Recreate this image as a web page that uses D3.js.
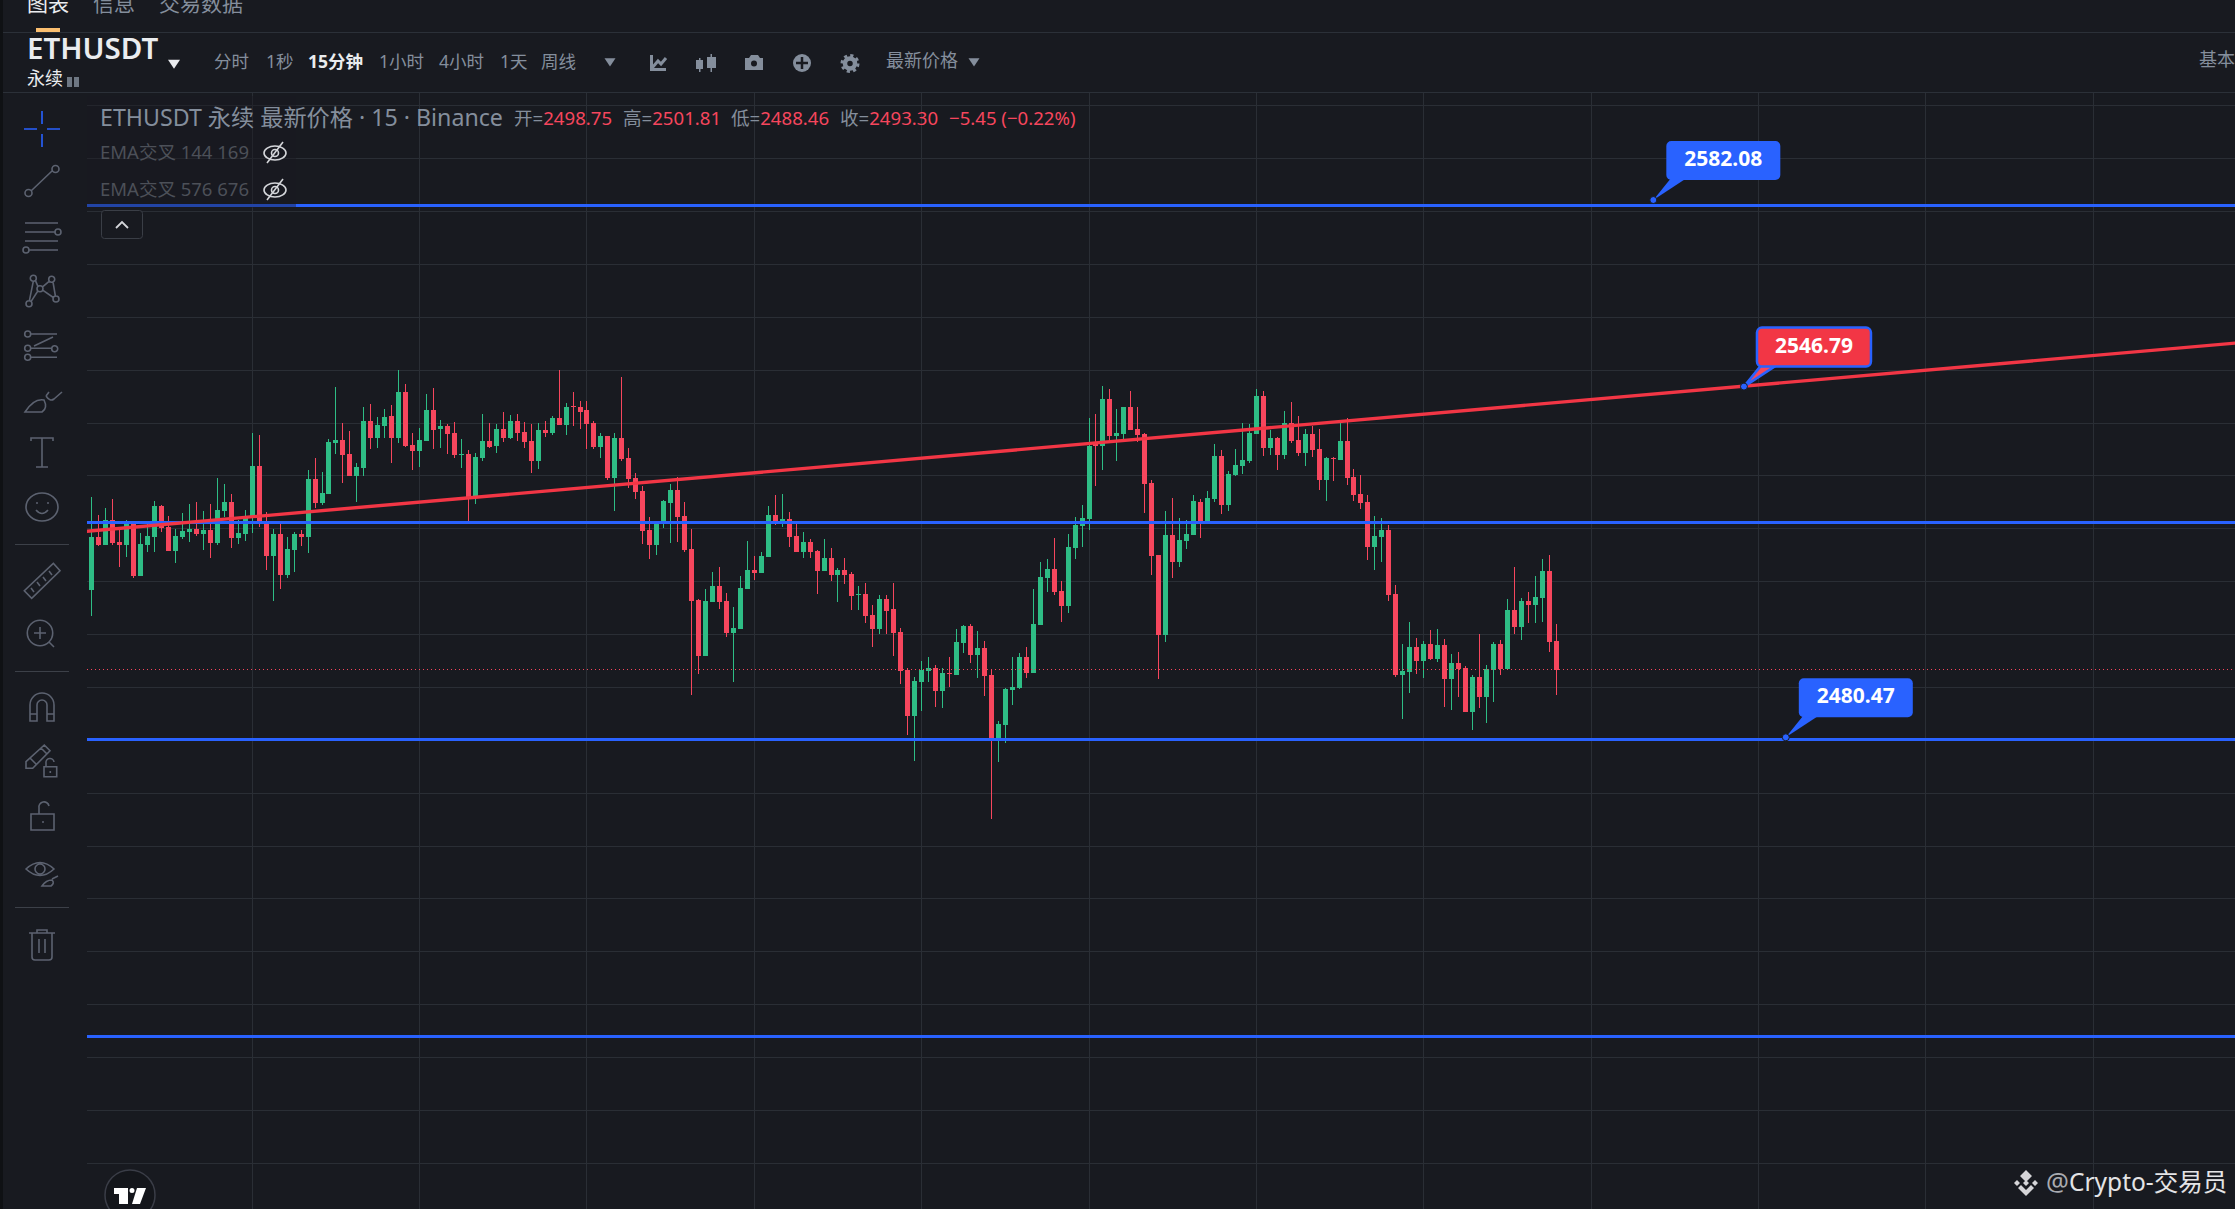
<!DOCTYPE html>
<html>
<head>
<meta charset="utf-8">
<script src="https://cdn.jsdelivr.net/npm/d3@7"></script>
<style>
html, body { margin: 0; padding: 0; background: #181a20; overflow: hidden; }
text { font-family: "Noto Sans", "Noto Sans CJK SC", sans-serif; }
</style>
</head>
<body>
<svg id="plot" width="2235" height="1209"></svg>
<script>
// ETHUSDT perp, 15 min candles
opens = [
2508.32,2518.35,2516.83,2521.56,2517.40,2516.83,2520.80,2510.97,2516.83,2518.35,
2524.21,2520.24,2515.70,2518.35,2519.29,2519.86,2518.91,2519.67,2517.21,2523.26,
2524.96,2518.16,2518.91,2522.32,2531.77,2521.18,2514.75,2518.91,2511.16,2515.89,
2518.91,2518.35,2529.31,2524.78,2526.48,2536.12,2536.69,2534.04,2529.88,2531.40,
2540.28,2537.07,2539.34,2541.23,2537.07,2545.77,2535.74,2534.61,2536.50,2542.36,
2538.77,2539.34,2538.01,2533.85,2534.04,2526.10,2533.29,2536.50,2535.56,2538.77,
2537.07,2540.28,2538.20,2536.50,2532.72,2538.58,2538.01,2540.85,2539.53,2543.12,
2542.93,2542.36,2539.91,2535.37,2537.45,2529.50,2537.07,2533.29,2529.50,2527.05,
2519.67,2516.84,2520.81,2524.78,2527.24,2522.32,2516.08,2506.44,2495.85,2506.06,
2509.08,2506.25,2500.20,2500.95,2508.52,2512.11,2511.54,2514.57,2522.51,2521.00,
2521.75,2518.54,2515.51,2517.40,2515.70,2511.92,2514.38,2511.16,2512.11,2511.35,
2507.38,2507.57,2503.60,2500.95,2506.63,2504.73,2500.38,2493.20,2484.50,2490.93,
2493.01,2493.58,2489.23,2492.63,2492.25,2498.30,2501.52,2496.03,2497.36,2492.25,
2480.34,2482.80,2489.42,2489.79,2495.66,2492.63,2501.71,2510.60,2512.30,2508.14,
2505.30,2516.27,2520.43,2521.75,2535.94,2535.56,2544.45,2537.45,2537.83,2542.93,
2538.77,2537.83,2528.56,2514.94,2499.81,2518.73,2513.62,2517.59,2518.73,2524.97,
2521.18,2525.53,2533.67,2524.40,2530.07,2531.77,2532.72,2537.83,2545.01,2535.18,
2537.07,2533.85,2539.91,2536.69,2534.23,2537.83,2534.99,2529.13,2533.29,2532.91,
2536.50,2529.69,2526.48,2524.97,2516.46,2518.35,2519.67,2507.57,2492.25,2492.82,
2497.54,2494.90,2498.11,2495.27,2497.92,2491.49,2494.52,2493.57,2485.25,2491.87,
2488.09,2493.19,2498.11,2493.38,2504.54,2501.33,2506.24,2505.49,2506.81,2511.92,
2498.75];
highs = [
2525.91,2522.51,2523.83,2525.53,2519.67,2521.56,2520.80,2519.10,2521.31,2525.15,
2524.40,2522.32,2519.86,2522.88,2524.59,2524.96,2523.26,2524.59,2529.50,2528.37,
2526.48,2521.56,2523.45,2538.01,2537.64,2523.07,2519.86,2520.80,2518.35,2519.29,
2519.67,2531.02,2533.29,2530.64,2536.88,2546.71,2539.91,2538.39,2532.34,2542.93,
2543.50,2541.04,2542.55,2543.31,2549.93,2547.28,2538.01,2538.96,2545.39,2546.52,
2540.47,2539.72,2540.09,2536.88,2534.80,2534.23,2541.61,2539.91,2539.72,2541.99,
2541.42,2541.61,2540.09,2539.72,2539.91,2540.28,2541.23,2549.93,2543.69,2545.77,
2544.07,2544.07,2540.28,2538.01,2537.45,2538.01,2548.60,2535.18,2530.45,2528.00,
2522.13,2521.00,2525.35,2528.37,2529.70,2524.97,2519.86,2506.63,2508.52,2511.73,
2512.68,2507.76,2505.11,2510.97,2517.59,2514.76,2515.51,2524.21,2526.29,2526.48,
2523.08,2521.38,2519.30,2517.97,2515.89,2517.97,2516.27,2512.49,2514.38,2511.73,
2509.08,2509.65,2505.49,2507.38,2507.38,2509.65,2501.14,2493.58,2491.87,2494.90,
2495.66,2494.14,2493.58,2495.66,2500.95,2501.71,2501.90,2500.57,2498.68,2493.20,
2483.55,2489.79,2495.66,2496.41,2497.55,2508.52,2513.62,2514.19,2518.16,2510.03,
2518.92,2522.13,2524.40,2540.86,2541.61,2546.90,2546.34,2542.55,2542.93,2545.96,
2542.93,2538.02,2529.13,2514.94,2523.26,2525.72,2521.94,2521.56,2526.29,2525.53,
2527.05,2535.94,2534.80,2530.83,2534.99,2539.91,2539.72,2546.34,2545.96,2538.58,
2537.26,2542.18,2543.88,2541.23,2538.77,2539.34,2538.77,2533.48,2533.48,2539.91,
2540.85,2531.21,2530.07,2526.29,2522.32,2521.94,2520.62,2509.27,2498.11,2502.27,
2499.25,2498.68,2500.76,2500.95,2499.06,2496.22,2496.60,2493.95,2492.25,2500.00,
2494.14,2498.49,2498.87,2506.62,2512.67,2506.81,2507.95,2510.97,2514.19,2514.94,
2501.81];
lows = [
2503.41,2516.64,2516.83,2516.83,2512.67,2514.56,2510.59,2510.97,2515.51,2515.51,
2519.29,2515.70,2513.43,2517.97,2517.40,2518.53,2515.89,2514.37,2516.83,2522.13,
2516.27,2517.02,2517.59,2519.10,2520.24,2512.10,2506.24,2508.51,2510.59,2511.73,
2516.64,2515.32,2523.83,2524.40,2526.48,2534.04,2528.56,2529.88,2524.96,2529.88,
2534.99,2535.18,2537.07,2532.34,2536.12,2535.37,2531.02,2531.58,2536.50,2534.99,
2535.18,2534.04,2533.29,2531.40,2520.93,2524.59,2532.72,2535.18,2534.23,2536.31,
2536.88,2536.50,2535.18,2530.45,2531.21,2537.26,2537.64,2539.53,2537.64,2539.34,
2538.77,2534.99,2534.99,2533.29,2529.13,2523.26,2532.72,2527.61,2525.53,2517.03,
2514.19,2514.95,2520.05,2517.22,2517.40,2515.51,2488.47,2492.44,2495.85,2506.06,
2504.73,2499.44,2490.93,2500.95,2508.52,2510.22,2511.54,2514.57,2520.62,2520.24,
2516.46,2515.51,2514.38,2514.38,2507.57,2511.92,2510.03,2506.06,2509.46,2504.54,
2504.54,2502.09,2497.55,2500.01,2500.01,2495.85,2490.55,2480.90,2475.99,2485.44,
2490.93,2486.20,2486.01,2489.98,2492.25,2496.41,2494.52,2491.68,2488.28,2465.02,
2475.80,2479.39,2486.58,2489.60,2491.68,2492.63,2501.71,2507.95,2507.38,2502.28,
2503.98,2514.19,2516.46,2519.67,2527.99,2531.02,2536.50,2532.72,2536.69,2538.58,
2536.31,2522.89,2511.16,2491.49,2498.49,2510.59,2512.67,2516.08,2518.73,2518.16,
2521.18,2524.97,2522.70,2523.26,2529.88,2530.26,2532.34,2537.83,2533.67,2533.85,
2531.02,2533.10,2536.12,2533.67,2531.77,2533.48,2527.24,2525.16,2528.94,2532.91,
2528.18,2525.16,2523.64,2514.00,2512.11,2513.62,2506.24,2491.87,2483.93,2488.84,
2492.44,2491.68,2495.09,2494.71,2486.20,2485.63,2488.09,2485.25,2481.85,2486.01,
2483.17,2487.14,2492.25,2493.38,2500.00,2498.87,2502.08,2502.08,2502.27,2496.60,
2488.46];
closes = [
2518.35,2516.83,2521.56,2517.21,2516.83,2520.80,2510.97,2517.02,2518.53,2524.21,
2520.11,2515.70,2518.53,2519.48,2519.86,2518.91,2519.67,2517.21,2523.45,2524.96,
2518.16,2519.10,2522.13,2531.77,2520.99,2514.75,2518.91,2511.16,2516.08,2518.91,
2518.35,2529.31,2524.78,2526.67,2536.31,2536.69,2533.85,2529.88,2531.58,2540.28,
2537.07,2539.53,2541.04,2537.07,2545.77,2535.56,2534.61,2536.69,2542.36,2538.58,
2539.34,2537.83,2533.85,2534.04,2525.72,2533.48,2536.50,2535.37,2538.77,2537.07,
2540.28,2538.01,2536.31,2532.72,2538.58,2538.01,2540.85,2539.53,2542.93,2542.93,
2541.99,2539.72,2535.37,2537.45,2529.50,2537.07,2533.10,2529.31,2526.86,2519.49,
2516.84,2521.00,2525.16,2527.24,2522.13,2515.89,2506.25,2495.85,2506.25,2509.08,
2506.06,2500.20,2501.14,2508.71,2512.11,2511.54,2514.76,2522.51,2521.00,2521.75,
2518.35,2515.51,2517.40,2515.51,2511.92,2514.38,2511.16,2512.11,2511.16,2507.19,
2507.57,2503.41,2500.95,2506.63,2504.36,2500.20,2493.01,2484.50,2491.12,2493.20,
2493.58,2489.23,2492.63,2492.44,2498.49,2501.52,2496.03,2497.36,2492.06,2480.34,
2482.99,2489.60,2489.98,2495.66,2492.63,2501.90,2510.79,2512.30,2507.95,2505.30,
2516.46,2520.62,2521.94,2535.56,2535.56,2544.45,2537.45,2538.02,2542.93,2538.58,
2537.64,2528.37,2514.75,2499.81,2518.73,2513.62,2517.78,2518.91,2525.16,2521.18,
2525.72,2533.67,2524.40,2530.26,2531.96,2532.91,2538.02,2545.01,2535.18,2537.07,
2533.85,2539.91,2536.50,2534.23,2537.83,2534.80,2529.13,2533.29,2533.10,2536.50,
2529.51,2526.29,2524.78,2516.46,2518.54,2519.67,2507.38,2492.25,2493.00,2497.54,
2494.90,2498.11,2495.27,2497.92,2491.49,2494.52,2493.38,2485.25,2491.87,2488.09,
2493.38,2498.11,2493.38,2504.54,2501.33,2506.24,2505.49,2507.00,2511.92,2498.49,
2493.30];

gridPrices = [2400,2410,2420,2430,2440,2450,2460,2470,2480,2490,2500,2510,2520,2530,2540,2550,2560,2570,2580,2590,2600];
gridIndexes = [23,47,71,95,119,143,167,191,215,239,263,287];
levelPrices = [2581.04,2521.09,2480.05,2423.89];
trendIndexes = [-1,309];
trendPrices = [2519.4,2555.2];
lastPrice = 2493.30;
calloutIndexes = [224,237,243];
calloutPrices = [2582.08,2546.79,2480.47];

tabLabels = ["图表","信息","交易数据"];
intervalLabels = ["分时","1秒","15分钟","1小时","4小时","1天","周线"];
intervalX = [214,266,308,379,439,500,541];

bg = "#181a20";
up = "#2ebd85";
down = "#f6465d";
blue = "#2962ff";
muted = "#848e9c";
gridColor = "#2a2e35";
left = 87;
top_ = 93;
W = 2235;
H = 1209;

const svg = d3.select("#plot").attr("viewBox", [0, 0, W, H]);

// 2480.47 label anchor and the 2582.08 anchor fix the price scale
y = d3.scaleLinear().domain([2480.47, 2582.08]).range([737.3, 200]);
x = d3.scaleLinear().domain([0, 210]).range([91.4, 1555.7]);

svg.append("rect").attr("width", W).attr("height", H).attr("fill", bg);
svg.append("rect").attr("width", 3).attr("height", H).attr("fill", "#0f1114");

svg.append("clipPath").attr("id", "pane").append("rect")
    .attr("x", left).attr("y", top_).attr("width", W - left).attr("height", H - top_);
const pane = svg.append("g").attr("clip-path", "url(#pane)");

// grid comes from the axes, labels thrown away
const gridY = pane.append("g")
    .attr("transform", `translate(${left},0)`)
    .call(d3.axisLeft(y).tickValues(gridPrices).tickSize(-(W - left)).tickFormat(""));
const gridX = pane.append("g")
    .attr("transform", `translate(0,${H})`)
    .call(d3.axisBottom(x).tickValues(gridIndexes).tickSize(-(H - top_)).tickFormat(""));
[gridY, gridX].forEach(g => {
    g.select(".domain").remove();
    g.selectAll("line").attr("stroke", gridColor).attr("shape-rendering", "crispEdges");
});

const candles = pane.append("g")
    .selectAll("g")
    .data(opens.map((o, i) => ({i, o, h: highs[i], l: lows[i], c: closes[i]})))
    .join("g")
    .attr("fill", d => d.c >= d.o ? up : down)
    .attr("shape-rendering", "crispEdges");

candles.append("rect")
    .attr("x", d => Math.round(x(d.i)))
    .attr("width", 1)
    .attr("y", d => y(d.h))
    .attr("height", d => y(d.l) - y(d.h));

candles.append("rect")
    .attr("x", d => Math.round(x(d.i)) - 2)
    .attr("width", 5)
    .attr("y", d => Math.round(y(Math.max(d.o, d.c))))
    .attr("height", d => Math.max(1, Math.round(Math.abs(y(d.o) - y(d.c)))));

pane.append("line")
    .attr("x1", left).attr("x2", W)
    .attr("y1", Math.round(y(lastPrice)) + 0.5).attr("y2", Math.round(y(lastPrice)) + 0.5)
    .attr("stroke", down).attr("stroke-width", 1).attr("stroke-dasharray", "1 3");

pane.selectAll(".level")
    .data(levelPrices)
    .join("line")
    .attr("class", "level")
    .attr("x1", left).attr("x2", W)
    .attr("y1", d => Math.floor(y(d)) + 0.5).attr("y2", d => Math.floor(y(d)) + 0.5)
    .attr("stroke", blue).attr("stroke-width", 3);

trendLine = d3.line().x(d => x(d[0])).y(d => y(d[1]));
pane.append("path")
    .attr("d", trendLine(trendIndexes.map((d, i) => [d, trendPrices[i]])))
    .attr("fill", "none").attr("stroke", "#f23645").attr("stroke-width", 3.4);

// price callouts
const callout = pane.selectAll(".callout")
    .data(calloutPrices)
    .join("g")
    .attr("class", "callout")
    .attr("transform", (d, i) => `translate(${x(calloutIndexes[i])},${y(d)})`);

callout.append("path")
    .attr("d", "M0,0L17,-21L32,-21Z")
    .attr("fill", (d, i) => i == 1 ? down : blue)
    .attr("stroke", blue).attr("stroke-width", (d, i) => i == 1 ? 2.5 : 0);
callout.append("rect")
    .attr("x", 13).attr("y", -59).attr("width", 114).attr("height", 39).attr("rx", 5)
    .attr("fill", (d, i) => i == 1 ? "#f23645" : blue)
    .attr("stroke", (d, i) => i == 1 ? blue : "none").attr("stroke-width", 2.5);
callout.append("circle")
    .attr("r", 3.5).attr("fill", blue).attr("stroke", bg).attr("stroke-width", 1);
callout.append("text")
    .attr("x", 70).attr("y", -34)
    .attr("text-anchor", "middle").attr("fill", "white")
    .attr("font-size", 21).attr("font-weight", 700)
    .text(d => d3.format(".2f")(d));

// header
svg.selectAll(".sep")
    .data([32.5, 92.5])
    .join("line")
    .attr("x1", 3).attr("x2", W).attr("y1", d => d).attr("y2", d => d)
    .attr("stroke", "#2b3038");
svg.append("rect").attr("x", 36).attr("y", 28).attr("width", 24).attr("height", 4).attr("fill", "#fbbf70");

function label(txt, px, py, size, fill, weight) {
    return svg.append("text").attr("x", px).attr("y", py)
        .attr("font-size", size).attr("fill", fill).attr("font-weight", weight || 400).text(txt);
}
[27, 93, 159].forEach((px, i) => label(tabLabels[i], px, 11, 21, i ? muted : "#eaecef"));

label("ETHUSDT", 27, 59, 29.5, "#eaecef", 600);
label("永续", 27, 85, 18, "#eaecef");
svg.append("path").attr("d", "M67,77h5v10h-5zM74,77h5v10h-5z").attr("fill", "#848e9c").attr("opacity", 0.8);

intervalLabels.forEach((t, i) =>
    label(t, intervalX[i], 68, 17.5, i == 2 ? "#eaecef" : muted, i == 2 ? 700 : 400));
label("最新价格", 886, 67, 18, muted);

function tri(cx, cy, s, fill) {
    svg.append("path").attr("d", `M${cx - s},${cy - s * 0.7}H${cx + s}L${cx},${cy + s * 0.8}Z`).attr("fill", fill);
}
tri(174, 64, 6, "#eaecef");
tri(610, 62, 5.5, muted);
tri(974, 62, 5.5, muted);

// top toolbar glyphs
svg.append("path")
    .attr("d", "M651.5,55V69.5H666M652,68L658,61L661,64L666,58")
    .attr("fill", "none").attr("stroke", muted).attr("stroke-width", 3);
svg.append("path")
    .attr("d", "M696,60h7v9h-7zM699,58h1.5v14h-1.5zM707,57h9v11h-9zM710.5,54h1.5v18h-1.5z")
    .attr("fill", muted);
svg.append("path").attr("d", "M745,58h4l2,-3h7l2,3h3v12h-18z").attr("fill", muted);
svg.append("circle").attr("cx", 754).attr("cy", 63.5).attr("r", 3).attr("fill", bg);
svg.append("circle").attr("cx", 802).attr("cy", 63).attr("r", 9).attr("fill", muted);
svg.append("path").attr("d", "M796,63H808M802,57V69").attr("stroke", bg).attr("stroke-width", 2.5);
svg.append("circle").attr("cx", 850).attr("cy", 63.5).attr("r", 5).attr("fill", "none").attr("stroke", muted).attr("stroke-width", 4.5);
svg.append("circle").attr("cx", 850).attr("cy", 63.5).attr("r", 8).attr("fill", "none").attr("stroke", muted).attr("stroke-width", 3).attr("stroke-dasharray", "3.14 3.14");

label("基本", 2199, 66, 18, muted);

// legend, sits on a see-through panel
svg.append("rect").attr("x", left).attr("y", 96).attr("width", 209).attr("height", 112)
    .attr("fill", bg).attr("opacity", 0.4);
label("ETHUSDT 永续 最新价格 · 15 · Binance", 100, 126, 23.2, muted);

ohlcLabels = ["开=", "高=", "低=", "收="];
ohlcX = [514, 623, 731, 840];
ohlcValues = [opens[210], highs[210], lows[210], closes[210]];
ohlcLabels.forEach((t, i) => {
    const row = label("", ohlcX[i], 125, 18.6, muted);
    row.append("tspan").text(t);
    row.append("tspan").attr("fill", down).text(d3.format(".2f")(ohlcValues[i]));
});
label("−5.45 (−0.22%)", 949, 125, 18.6, down);

["EMA交叉 144 169", "EMA交叉 576 676"].forEach((t, i) => {
    const py = [159, 196][i];
    label(t, 100, py, 18.5, "#4c5058");
    const g = svg.append("g").attr("transform", `translate(275,${py - 6})`)
        .attr("fill", "none").attr("stroke", "#d4d6da").attr("stroke-width", 1.6);
    g.append("ellipse").attr("rx", 11).attr("ry", 7);
    g.append("circle").attr("r", 3.5);
    g.append("path").attr("d", "M-8,10L8,-11");
});

svg.append("rect").attr("x", 101.5).attr("y", 210.5).attr("width", 41).attr("height", 28).attr("rx", 3)
    .attr("fill", bg).attr("stroke", "#3a3e46");
svg.append("path").attr("d", "M116,228L122,222L128,228").attr("fill", "none").attr("stroke", "#d4d6da").attr("stroke-width", 1.8);

// left toolbar
const ring = (cx, cy, r) => `M${cx - r},${cy}a${r},${r} 0 1 0 ${2 * r},0a${r},${r} 0 1 0 ${-2 * r},0`;
const toolIcons = [
    [42, 129, "M-18,0H-5M5,0H18M0,-18V-5M0,5V18"],
    [42, 181, "M-11,10L10,-10" + ring(-13.5, 12, 3.5) + ring(13.5, -12, 3.5)],
    [42, 236, "M-17,-13H16M-17,-4H13M-17,5H16M-13,14H16" + ring(16, -4, 3) + ring(-16, 14, 3)],
    [42, 290, "M-8.7,-8.7L-12.6,10.7M-6.6,-9.6L-4,-3.4M0,-2.6L7.4,-8.8M11,-8L13.4,6M0.7,0.2L11.3,7.5M-4,0.7L-11,11.6" +
        ring(-8.7, -11.7, 3) + ring(9.7, -10.7, 3) + ring(-2, -1.3, 3) + ring(14, 9, 3) + ring(-13, 13.7, 3)],
    [42, 345, "M-11,-11H15M-11,3.3H10M-11,12.3H15M-8,1L11,-8" + ring(-14.3, -11, 3) + ring(-14.3, 3.3, 3) + ring(12.7, 3.7, 3) + ring(-14.3, 12.3, 3)],
    [42, 400, "M-17,12H0Q6,8 2,0Q-8,-2 -17,12ZM4,-4Q8,2 12,-1L20,-8M4,-4L7,-8"],
    [42, 453, "M-11,-12V-15H11V-12M0,-15V14M-6,14H6"],
    [42, 507, "M-16,0a16,14 0 1 0 32,0a16,14 0 1 0 -32,0M-6,3Q0,10 6,3M-6,-4h2M5,-4h2"],
    [42, 581, "M11.3,-17.7L18,-10.3L-10.3,17.3L-17.7,9.7ZM-11,7l3,4M-5,1l3,4M1,-4l3,4M7,-10l3,4"],
    [40, 633, ring(0, 0, 12.7) + "M-6,0H6M0,-6V6M8.5,8.5L14,14"],
    [42, 707, "M-12,14V-2a12,12 0 0 1 24,0V14H5V-2a5,5 0 0 0 -10,0V14ZM-12,7H-5M5,7H12"],
    [40, 761, "M-14,0.7L4.3,-16L10,-10.3L-7.3,7.3H-14ZM-10,-3l6,6M1,-13l6,6M4,5.7h12.7v10h-12.7zM6,5.7V2a4,4 0 0 1 8,-1M10.3,10v2"],
    [42, 817, "M-11,-3H12V13H-11ZM-3,-3V-9a5,5 0 0 1 10,-2M0,5h2"],
    [40, 869, "M-14,0Q0,-13 14,0Q0,13 -14,0Z" + ring(0, 0, 5) + "M2,17H11Q15,14 12,11Q6,11 2,17ZM12,10L18,7"],
    [42, 945, "M-13,-12H13M-5,-12V-15H5V-12M-10,-12V12Q-10,15 -7,15H7Q10,15 10,12V-12M-3,-6V8M3,-6V8"]
];
svg.append("g").selectAll("path")
    .data(toolIcons)
    .join("path")
    .attr("transform", d => `translate(${d[0]},${d[1]})`)
    .attr("d", d => d[2])
    .attr("fill", "none")
    .attr("stroke", (d, i) => i == 0 ? blue : "#5c6270")
    .attr("stroke-width", 1.6);
svg.selectAll(".toolsep")
    .data([544.5, 671.5, 907.5])
    .join("line")
    .attr("x1", 15).attr("x2", 69).attr("y1", d => d).attr("y2", d => d)
    .attr("stroke", "#3c4048");

// tradingview badge
svg.append("circle").attr("cx", 130).attr("cy", 1195).attr("r", 25)
    .attr("fill", "#14161b").attr("stroke", "#3a3d47").attr("stroke-width", 1.5);
svg.append("path")
    .attr("d", "M114,1188H128V1204H119V1194H114ZM137,1188H146L140,1204H132ZM129.5,1190.5a2.5,2.5 0 1 0 5,0a2.5,2.5 0 1 0 -5,0Z")
    .attr("fill", "white");

// watermark
svg.append("path")
    .attr("d", "M2026,1170l6,6l-6,6l-6,-6zM2014,1183l3,-3l3,3l-3,3zM2032,1183l3,-3l3,3l-3,3zM2026,1180l3,3l-3,3l-3,-3zM2018,1188l3,-3l5,5l5,-5l3,3l-8,8z")
    .attr("fill", "#d5d5d8");
label("@", 2046, 1191, 25.5, "#a9abb0");
label("Crypto-交易员", 2069, 1191, 24.5, "#e4e4e6");
</script>
</body>
</html>
